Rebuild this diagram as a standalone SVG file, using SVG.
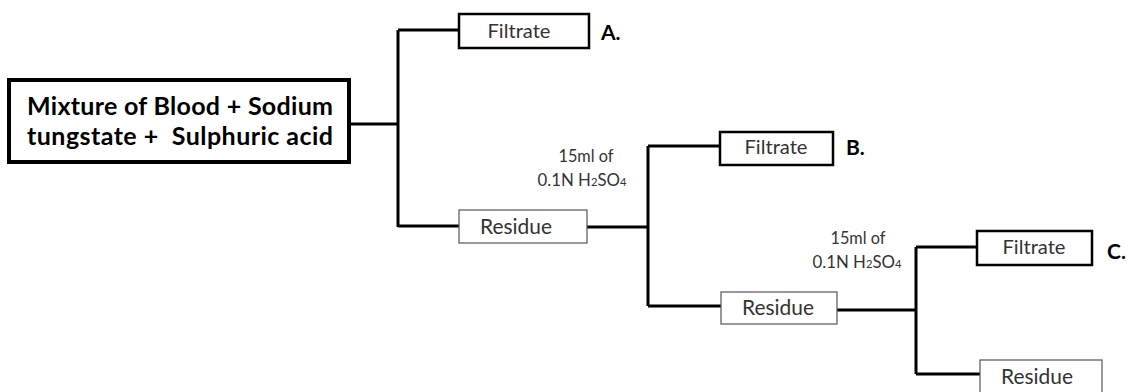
<svg xmlns="http://www.w3.org/2000/svg" width="1131" height="392" viewBox="0 0 1131 392">
<style>
.main{fill:#fff;stroke:#000;stroke-width:4}
.fil{fill:#fff;stroke:#000;stroke-width:2.5}
.res{fill:#fff;stroke:#555;stroke-width:1.2}
.t{font-family:Lato,"Open Sans","Liberation Sans",sans-serif;fill:#333;text-anchor:middle}
.mt{font-family:Lato,"Open Sans","Liberation Sans",sans-serif;font-weight:bold;font-size:25px;fill:#000;text-anchor:middle}
.lab{font-family:Lato,"Open Sans","Liberation Sans",sans-serif;font-weight:bold;font-size:21px;fill:#000}
.note{font-family:Lato,"Open Sans","Liberation Sans",sans-serif;font-size:16.5px;fill:#333;text-anchor:middle}
.c{fill:none;stroke:#000;stroke-width:3}
</style>
<rect width="1131" height="392" fill="#fff"/>
<g id="connectors">
<path class="c" d="M350 124 H398 M398 30 V227 M398 30 H459 M398 226 H459"/>
<path class="c" d="M587 227 H648 M648 146 V306 M648 146 H720 M648 306 H721"/>
<path class="c" d="M837 310 H916 M916 247 V374 M916 247 H977 M916 374 H980"/>
</g>
<g id="main">
<rect class="main" x="9" y="80" width="340" height="82"/>
<text class="mt" x="180" y="115" textLength="306">Mixture of Blood + Sodium</text>
<text class="mt" x="180" y="145" textLength="306" xml:space="preserve">tungstate +  Sulphuric acid</text>
</g>
<g id="filtrateA">
<rect class="fil" x="459" y="14" width="130" height="34"/>
<text class="t" x="519" y="38" font-size="20" textLength="63" lengthAdjust="spacingAndGlyphs">Filtrate</text>
<text class="lab" x="601" y="40">A.</text>
</g>
<g id="residue1">
<rect class="res" x="459" y="210" width="128" height="33"/>
<text class="t" x="516" y="234" font-size="20.5" textLength="72" lengthAdjust="spacingAndGlyphs">Residue</text>
</g>
<g id="note1">
<text class="note" x="586" y="162" textLength="55" lengthAdjust="spacingAndGlyphs">15ml of</text>
<text class="note" x="582" y="186" textLength="89" lengthAdjust="spacingAndGlyphs">0.1N H<tspan font-size="11">2</tspan>SO<tspan font-size="11">4</tspan></text>
</g>
<g id="filtrateB">
<rect class="fil" x="720" y="132" width="113" height="33"/>
<text class="t" x="776" y="154" font-size="20" textLength="63" lengthAdjust="spacingAndGlyphs">Filtrate</text>
<text class="lab" x="846" y="155">B.</text>
</g>
<g id="residue2">
<rect class="res" x="721" y="292" width="116" height="32"/>
<text class="t" x="778" y="315" font-size="20.5" textLength="72" lengthAdjust="spacingAndGlyphs">Residue</text>
</g>
<g id="note2">
<text class="note" x="858" y="244" textLength="55" lengthAdjust="spacingAndGlyphs">15ml of</text>
<text class="note" x="857" y="268" textLength="89" lengthAdjust="spacingAndGlyphs">0.1N H<tspan font-size="11">2</tspan>SO<tspan font-size="11">4</tspan></text>
</g>
<g id="filtrateC">
<rect class="fil" x="977" y="231" width="115" height="34"/>
<text class="t" x="1034" y="254" font-size="20" textLength="63" lengthAdjust="spacingAndGlyphs">Filtrate</text>
<text class="lab" x="1107" y="259">C.</text>
</g>
<g id="residue3">
<rect class="res" x="980" y="360" width="122" height="40"/>
<text class="t" x="1037" y="384" font-size="20.5" textLength="72" lengthAdjust="spacingAndGlyphs">Residue</text>
</g>
</svg>
